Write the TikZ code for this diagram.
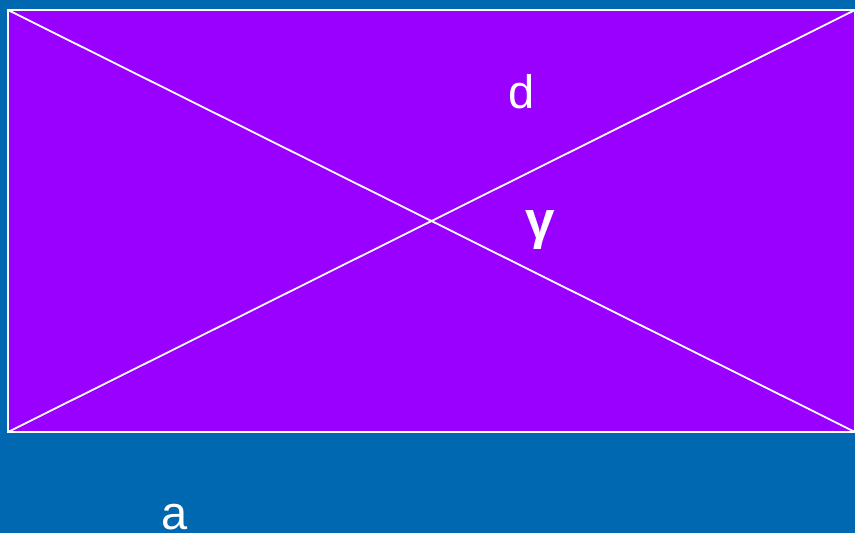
\documentclass[tikz,border=0pt]{standalone}
\usepackage{fontspec}
\setmainfont{Liberation Sans}
\definecolor{bgblue}{HTML}{0068B0}
\definecolor{boxpurple}{HTML}{9900FF}
\begin{document}
\begin{tikzpicture}[x=1pt,y=-1pt,
  lbl/.style={text=white,inner sep=0pt,font=\fontsize{47}{50}\selectfont},
  frame/.style={draw=white,line width=2pt,fill=boxpurple},
  diag/.style={draw=white,line width=1.8pt}]
\fill[bgblue] (0,0) rectangle (855,533);
\useasboundingbox (0,0) rectangle (855,533);
\coordinate (tl) at (8,10);
\coordinate (br) at (855,432);
\coordinate (tr) at (855,10);
\coordinate (bl) at (8,432);
\path[frame] (tl) rectangle (br);
\draw[diag] (tl) -- (br);
\draw[diag] (bl) -- (tr);
\node[lbl] (d) at (522,92) {d};
\node[lbl,font=\fontsize{53}{55}\selectfont\bfseries] (g) at (540,230) {γ};
\node[lbl] (a) at (175,517) {a};
\end{tikzpicture}
\end{document}
